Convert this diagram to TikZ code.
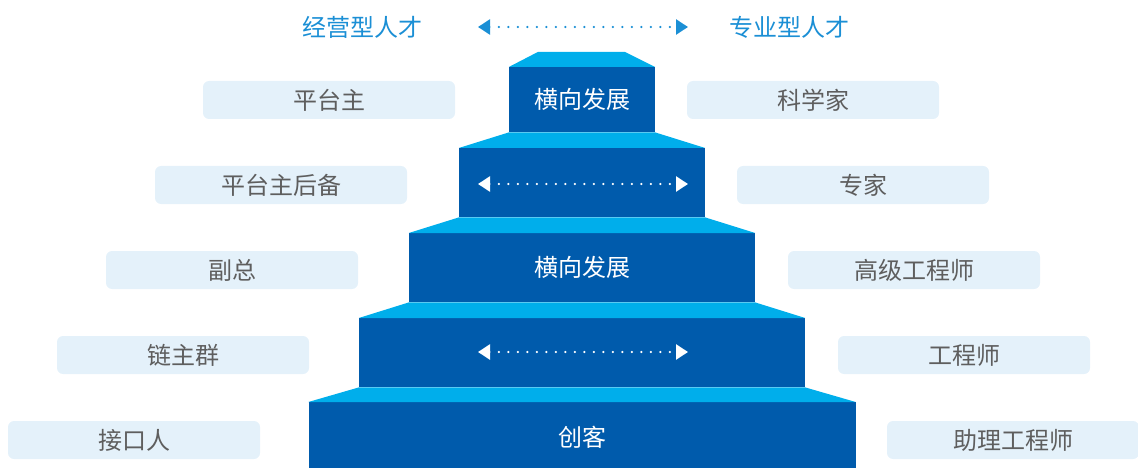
\documentclass[tikz,border=0pt]{standalone}
\usepackage{fontspec}
\newfontfamily\cjk{Noto Sans CJK SC}
\usepackage{xcolor}
\definecolor{cStep}{HTML}{005BAC}
\definecolor{cCap}{HTML}{00AEEB}
\definecolor{cTag}{HTML}{E4F1FA}
\definecolor{cText}{HTML}{5E5E5E}
\definecolor{cHead}{HTML}{1B8FD5}
\usetikzlibrary{positioning,arrows.meta}
\tikzset{
  step-box/.style={fill=cStep,draw=none,minimum width=#1,inner sep=0pt,
    anchor=north,text=white,font=\cjk\fontsize{24}{28}\selectfont},
  step-cap/.style={fill=cCap,draw=none},
  tag-box/.style={fill=cTag,draw=none,rounded corners=6pt,minimum width=252pt,
    minimum height=38pt,inner sep=0pt,text=cText,font=\cjk\fontsize{24}{28}\selectfont},
  head/.style={text=cHead,font=\cjk\fontsize{24}{28}\selectfont,inner sep=0pt},
  arrow-dots/.style={{Triangle[length=12pt,width=15pt]}-{Triangle[length=12pt,width=15pt]},
    line width=2.4pt,line cap=round,dash pattern=on 0pt off 9.5pt},
}

\begin{document}
\begin{tikzpicture}[x=1pt,y=-1pt]
  \useasboundingbox (0,0) rectangle (1138,468);
  % steps, top to bottom
  \node[step-box=146pt,minimum height=65pt] (st1) at (582,67) {横向发展};
  \node[step-box=246pt,minimum height=69pt] (st2) at (582,148) {};
  \node[step-box=346pt,minimum height=69pt] (st3) at (582,233) {横向发展};
  \node[step-box=446pt,minimum height=69pt] (st4) at (582,318) {};
  \node[step-box=547pt,minimum height=70pt] (st5) at (582,402) {创客};
  % light treads
  \fill[step-cap] (st1.north west) -- ++(29,-15) -- ([xshift=-30pt,yshift=15pt]st1.north east)
    -- (st1.north east) -- cycle;
  \foreach \a/\b in {st1/st2,st2/st3,st3/st4,st4/st5}
    \fill[step-cap] (\a.south west) -- (\a.south east) -- (\b.north east)
      -- (\b.north west) -- cycle;
  % arrows inside steps
  \coordinate (a2l) at (478,184);
  \coordinate (a2r) at (688,184);
  \coordinate (a4l) at (478,352);
  \coordinate (a4r) at (688,352);
  \draw[arrow-dots,white] (a2l) -- (a2r);
  \draw[arrow-dots,white] (a4l) -- (a4r);
  % heading
  \node[head] (hl) at (362,27) {经营型人才};
  \node[head] (hr) at (789,27) {专业型人才};
  \coordinate (a0l) at (478,27);
  \coordinate (a0r) at (688,27);
  \draw[arrow-dots,cHead] (a0l) -- (a0r);
  % left tags
  \node[tag-box] (l1) at (329,100) {平台主};
  \node[tag-box] (l2) at (281,185) {平台主后备};
  \node[tag-box] (l3) at (232,270) {副总};
  \node[tag-box] (l4) at (183,355) {链主群};
  \node[tag-box] (l5) at (134,440) {接口人};
  % right tags
  \node[tag-box] (r1) at (813,100) {科学家};
  \node[tag-box] (r2) at (863,185) {专家};
  \node[tag-box] (r3) at (914,270) {高级工程师};
  \node[tag-box] (r4) at (964,355) {工程师};
  \node[tag-box] (r5) at (1013,440) {助理工程师};
\end{tikzpicture}
\end{document}
